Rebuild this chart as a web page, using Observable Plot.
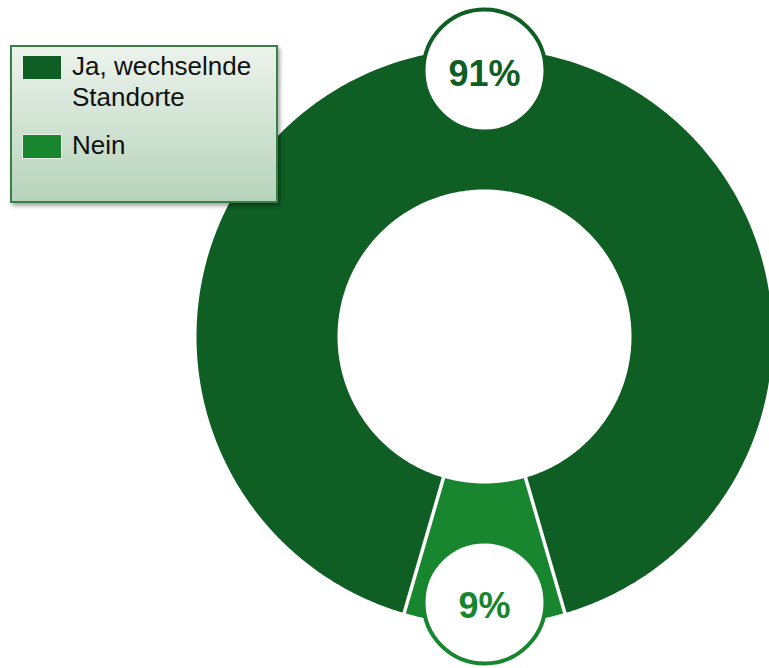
<!DOCTYPE html>
<html>
<head>
<meta charset="utf-8">
<script src="https://cdn.jsdelivr.net/npm/d3@7"></script>
<script src="https://cdn.jsdelivr.net/npm/@observablehq/plot@0.6"></script>
<style>
  html, body { margin: 0; padding: 0; background: #fff; }
  #wrap { position: relative; width: 769px; height: 668px; overflow: hidden; font-family: "Liberation Sans", Arial, sans-serif; }
  #chart { position: absolute; left: 0; top: 0; }
  #legend { position: absolute; left: 10px; top: 45px; width: 264px; height: 154px;
    border: 2px solid #3a7f47; background: linear-gradient(#ecf3ec, #b6d3ba);
    box-shadow: 2px 3px 4px rgba(0,0,0,0.35); }
  .sw { position: absolute; left: 10px; width: 40px; height: 25px; box-sizing: border-box; border: 1px solid #e8f0e8; }
  .lt { position: absolute; left: 60px; font-size: 26px; line-height: 31px; color: #111; white-space: nowrap; }
</style>
</head>
<body>
<div id="wrap">
  <div id="chart"></div>
  <div id="legend"></div>
</div>
<script>
const categories = ["Ja, wechselnde Standorte", "Nein"];
const legendLines = [["Ja, wechselnde", "Standorte"], ["Nein"]];
const values = [91, 9];
const labels = ["91%", "9%"];
const colors = ["#0f5e24", "#17862f"];

const W = 769, H = 668;
const cx = 484, cy = 336, R = 288, r0 = 147, rLabel = 266;

const total = d3.sum(values);
const start = Math.PI - 2 * Math.PI * (values[0] + values[1] / 2) / total;
const arcs = d3.pie().sort(null).startAngle(start).endAngle(start + 2 * Math.PI)(values);

const px = (rad, a) => cx + rad * Math.sin(a);
const py = (rad, a) => cy - rad * Math.cos(a);

const slicePts = arcs.map((a, i) => {
  const n = Math.max(8, Math.ceil((a.endAngle - a.startAngle) / 0.01));
  const pts = [];
  for (let k = 0; k <= n; k++) {
    const t = a.startAngle + (a.endAngle - a.startAngle) * k / n;
    pts.push({x: px(R, t), y: py(R, t)});
  }
  for (let k = n; k >= 0; k--) {
    const t = a.startAngle + (a.endAngle - a.startAngle) * k / n;
    pts.push({x: px(r0, t), y: py(r0, t)});
  }
  return pts;
});

const seps = arcs.map(a => ({x1: px(r0 - 2, a.startAngle), y1: py(r0 - 2, a.startAngle), x2: px(R + 2, a.startAngle), y2: py(R + 2, a.startAngle)}));

const lbl = arcs.map((a, i) => {
  const m = (a.startAngle + a.endAngle) / 2;
  return {x: px(rLabel, m), y: py(rLabel, m), label: labels[i], color: colors[i]};
});

const plot = Plot.plot({
  width: W, height: H,
  marginTop: 0, marginRight: 0, marginBottom: 0, marginLeft: 0,
  x: {domain: [0, W], range: [0, W], axis: null},
  y: {domain: [0, H], range: [0, H], axis: null},
  style: {background: "transparent"},
  marks: [
    ...slicePts.map((pts, i) => Plot.line(pts, {x: "x", y: "y", fill: colors[i], stroke: "none", curve: "linear-closed"})),
    Plot.link(seps, {x1: "x1", y1: "y1", x2: "x2", y2: "y2", stroke: "white", strokeWidth: 3.5}),
    Plot.dot(lbl, {x: "x", y: "y", r: 61, fill: "white", stroke: "color", strokeWidth: 4}),
    Plot.text(lbl, {x: "x", y: "y", text: "label", fill: "color", fontSize: 36, fontWeight: "bold", dy: 4,
      fontFamily: "Liberation Sans, Arial, sans-serif", textAnchor: "middle", lineAnchor: "middle"})
  ]
});
document.getElementById("chart").appendChild(plot);

const legend = document.getElementById("legend");
const swTop = [8, 87];
categories.forEach((c, i) => {
  const sw = document.createElement("div");
  sw.className = "sw";
  sw.style.top = swTop[i] + "px";
  sw.style.background = colors[i];
  legend.appendChild(sw);
  legendLines[i].forEach((line, j) => {
    const t = document.createElement("div");
    t.className = "lt";
    t.style.top = (swTop[i] - 4 + j * 31) + "px";
    t.textContent = line;
    legend.appendChild(t);
  });
});
</script>
</body>
</html>
